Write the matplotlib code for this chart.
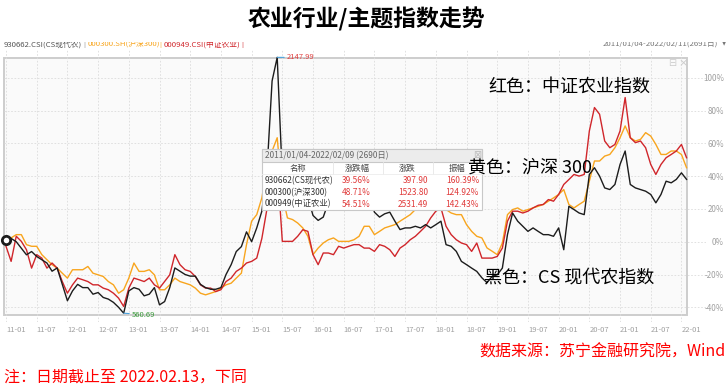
import numpy as np
import matplotlib
matplotlib.use('Agg')
import matplotlib.pyplot as plt
from matplotlib.patches import Rectangle
from matplotlib.transforms import Bbox

plt.rcParams['font.family'] = ['Noto Sans CJK SC', 'DejaVu Sans']

# ---------------- data (monthly, 2011-01 .. 2022-02, % change) ----------------
x_tick_labels = ['11-01', '11-07', '12-01', '12-07', '13-01', '13-07', '14-01', '14-07',
                 '15-01', '15-07', '16-01', '16-07', '17-01', '17-07', '18-01', '18-07',
                 '19-01', '19-07', '20-01', '20-07', '21-01', '21-07', '22-01']
y_ticks = [-40, -20, 0, 20, 40, 60, 80, 100]

cs_modern_agri = [  # 930662 CS现代农 (black)
    1, 2, 0, -4, -8, -6, -9, -11, -13, -18, -16, -26,
    -36, -30, -26, -28, -28, -32, -31, -34, -35, -37, -40, -43.6,
    -30, -28, -29, -33, -32, -28, -38.5, -36.5, -28, -16, -18, -20,
    -21, -21, -26, -28, -29, -29, -28, -20, -14, -6, -3, 6,
    0, 8.4, 18.6, 43, 98, 112.4, 40, 22, 20, 28, 30, 27,
    16, 13, 15, 24, 27, 29, 27, 25, 27, 29, 31, 28,
    18, 15, 17, 18, 12.5, 7.4, 8.4, 8.4, 9.4, 8.4, 10.4, 8.4,
    10.4, 12.5, -1.8, -2.8, -5.9, -12, -14, -16.1, -18.1, -22, -25, -21.2,
    -20.2, -16.1, 4.3, 17.5, 12.5, 9.4, 6.3, 8.4, 6.3, 4.3, 4.3, 3.3,
    8.4, -4.9, 21.6, 19.6, 17.5, 16.5, 41, 45.1, 40, 32.8, 31.8, 34.9,
    47.1, 55.3, 34.9, 32.8, 31.8, 30.8, 28.8, 23.7, 28.8, 36.9, 35.9, 38,
    42, 38]

hs300 = [  # 000300 沪深300 (orange)
    1.2, 2.3, 4.3, 4.3, -1.8, -2.8, -2.8, -7.9, -11, -14, -16.1, -19.2,
    -22.2, -17.1, -17.1, -17.1, -15.1, -19.2, -20.2, -21.2, -24.3, -26.3, -31.4, -29.3,
    -22.2, -13, -18.1, -18.1, -17.1, -20.2, -29.3, -29.3, -26.3, -22.2, -24.3, -25.3,
    -26.3, -28.3, -31.4, -32.4, -31.4, -30.4, -28.3, -26.3, -25.3, -22.2, -19.2, -1.8,
    12.5, 16.5, 26.7, 45.1, 55.3, 63.4, 28.8, 14.5, 13.5, 11.4, 8.4, 3.3,
    -7.9, -3.9, -0.8, 1.2, 2.3, 0.2, 0.2, 0.2, 1.2, 3.3, 9.4, 9.4,
    4.3, 6.3, 8.4, 9.4, 10.4, 12.5, 14.5, 16.5, 19.6, 20.6, 21.6, 24.7,
    26.7, 24.7, 19.6, 17.5, 16.5, 16.5, 10.4, 6.3, 3.3, 2.3, -3.8, -5.8,
    -7.9, -0.8, 16.5, 19.6, 20.6, 18.6, 19.6, 20.6, 21.6, 22.7, 24.7, 26.7,
    28.8, 31.8, 22.7, 20.6, 22.7, 24.7, 36.9, 49.2, 49.2, 52.2, 53.2, 57.3,
    63.4, 70.6, 63.4, 61.4, 62.4, 66.5, 64.4, 59.3, 53.2, 53.2, 55.3, 55.3,
    53.2, 45.1]

csi_agri = [  # 000949 中证农业 (red)
    -2.8, -12, 3.3, 0.2, -4.9, -16.1, -7.9, -10, -16.1, -13, -16.1, -24.3,
    -31.4, -26.3, -22.2, -23.2, -24.3, -26.3, -26.3, -28.3, -29.3, -31.4, -34.4, -39.5,
    -28.3, -22.2, -23.2, -24.3, -22.2, -26.3, -28.3, -24.3, -20.2, -7.9, -14, -17.1,
    -18.1, -21.2, -26.3, -28.3, -28.3, -30.4, -29.3, -24.3, -22.2, -18.1, -16.1, -13,
    -12, -10, 2, 20, 32.8, 47, 0.2, 0.2, 0.2, 3.3, 7.3, 6.3,
    -7.9, -14, -6.9, -6.9, -7.9, -2.8, -3.9, -2.8, -1.8, -1.8, -3.9, -3.9,
    -5.9, -1.8, -2.8, -4.9, -9, -3.9, -1.8, 1.2, 3.3, 6.3, 9.4, 14.5,
    18.6, 20.6, 9.4, 4.3, 1.2, -0.8, -1.8, -5.9, -0.8, -10, -10, -10,
    -9, -3.9, 12.5, 18.6, 18.6, 17.5, 18.6, 20.6, 22.2, 22.7, 25.7, 24.7,
    28.8, 34.9, 37.9, 41, 40, 41, 67.5, 81.8, 77.7, 61.4, 57.3, 59.3,
    67.5, 87.9, 63.4, 60.4, 61.4, 57.3, 47.1, 41, 47.1, 51.2, 53.2, 55.3,
    59.3, 51.2]

legend_names = ['930662.CSI(CS现代农)', '000300.SH(沪深300)', '000949.CSI(中证农业)']
period_label = '2011/01/04-2022/02/11(2691日)'

table_title = '2011/01/04-2022/02/09 (2690日)'
table_cols = ['名称', '涨跌幅', '涨跌', '振幅']
table_names = ['930662(CS现代农)', '000300(沪深300)', '000949(中证农业)']
table_pct = ['39.56%', '48.71%', '54.51%']
table_chg = ['397.90', '1523.80', '2531.49']
table_amp = ['160.39%', '124.92%', '142.43%']

peak_label = '2147.99'
trough_label = '560.69'

title = '农业行业/主题指数走势'
note_red = '红色：中证农业指数'
note_yellow = '黄色：沪深 300'
note_black = '黑色：CS 现代农指数'
source = '数据来源：苏宁金融研究院，Wind'
footnote = '注：日期截止至 2022.02.13，下同'

# ---------------- layout helpers ----------------
W, H = 728, 387
def fx(px):
    return px / W
def fy(py):
    return 1 - py / H

C_BLACK = '#1c1c1c'
C_ORANGE = '#f8a51e'
C_RED = '#d0262b'

fig = plt.figure(figsize=(W / 100, H / 100), dpi=100)
fig.patch.set_facecolor('white')

AX_L, AX_R, AX_T, AX_B = 4, 706, 50, 322
ax = fig.add_axes([fx(AX_L), fy(AX_B), (AX_R - AX_L) / W, (AX_B - AX_T) / H])
ax.set_facecolor('none')

n = len(cs_modern_agri)
months = np.arange(n)
px_per_month = 5.117
ax.set_xlim((AX_L - 6) / px_per_month, (AX_R - 6) / px_per_month)
px_per_pct = 1.64
zero_px = 241.7
ax.set_ylim((zero_px - AX_B) / px_per_pct, (zero_px - AX_T) / px_per_pct)

# panel background
ax_w = AX_R - AX_L
ax_h = AX_B - AX_T
panel = Rectangle(((4 - AX_L) / ax_w, (AX_B - 315) / ax_h), (687 - 4) / ax_w, (315 - 58) / ax_h,
                  transform=ax.transAxes, facecolor='#fafafa', edgecolor='#cdcdcd',
                  lw=1.4, zorder=0, clip_on=False)
ax.add_patch(panel)

for s in ax.spines.values():
    s.set_visible(False)

ax.set_xticks(np.arange(0, 6 * len(x_tick_labels), 6))
ax.set_xticklabels(x_tick_labels)
for lbl in ax.get_xticklabels():
    lbl.set_ha('left')
ax.tick_params(axis='x', length=0, pad=3, labelsize=5.5, labelcolor='#a0a0a0')

ax.yaxis.tick_right()
ax.set_yticks(y_ticks)
ax.set_yticklabels([f'{v}%' for v in y_ticks])
for lbl in ax.get_yticklabels():
    lbl.set_ha('right')
ax.tick_params(axis='y', length=0, pad=13, labelsize=5.8, labelcolor='#a0a0a0')

ax.set_axisbelow(True)
ax.grid(True, color='#dcdcdc', lw=0.6, linestyle=(0, (2, 2)))

ax.plot(months, hs300, color=C_ORANGE, lw=1.0, zorder=2)
ax.plot(months, csi_agri, color=C_RED, lw=1.0, zorder=2.1)
ax.plot(months, cs_modern_agri, color=C_BLACK, lw=1.0, zorder=2.2)
ax.plot(months[0], cs_modern_agri[0], 'o', mfc='white', mec=C_BLACK, mew=2, ms=6, zorder=3,
        clip_on=False)

pk = int(np.argmax(cs_modern_agri))
tr = int(np.argmin(cs_modern_agri))
ax.annotate(peak_label, xy=(pk, cs_modern_agri[pk]), xytext=(7, 0), textcoords='offset points',
            color='#e04040', fontsize=5.5, va='center', ha='left',
            arrowprops=dict(arrowstyle='-', color='#4aa3df', lw=0.8, shrinkA=0, shrinkB=0))
ax.annotate(trough_label, xy=(tr, cs_modern_agri[tr]), xytext=(6, -1), textcoords='offset points',
            color='#3a9a3a', fontsize=5.5, va='center', ha='left',
            arrowprops=dict(arrowstyle='-', color='#4aa3df', lw=0.8, shrinkA=0, shrinkB=0))

# top-right panel icons
fig.text(fx(672), fy(63), '⊟', fontsize=7, color='#cccccc', ha='center', va='center',
         family='DejaVu Sans')
fig.text(fx(683), fy(63), '×', fontsize=8, color='#cccccc', ha='center', va='center',
         family='DejaVu Sans')

# ---------------- header texts ----------------
fig.text(fx(366), fy(19), title, fontsize=16.5, fontweight='bold', ha='center', va='center',
         color='#000000')

clip = Bbox([[0, H - 49], [W, H - 41.5]])
leg_x = [4, 88, 164]
leg_c = ['#555555', C_ORANGE, C_RED]
for name, xx, cc in zip(legend_names, leg_x, leg_c):
    t = fig.text(fx(xx), fy(44), name, fontsize=5.6, color=cc, ha='left', va='center')
    t.set_clip_box(clip)
    t.set_clip_on(True)
for xx, cc in zip([84, 160, 242], ['#888888', C_ORANGE, C_RED]):
    t = fig.text(fx(xx), fy(44), '|', fontsize=5.6, color=cc, ha='center', va='center')
    t.set_clip_box(clip)
    t.set_clip_on(True)
t = fig.text(fx(718), fy(44), period_label, fontsize=5.6, color='#777777', ha='right', va='center')
t.set_clip_box(clip)
t.set_clip_on(True)
t = fig.text(fx(724), fy(44), '▼', fontsize=4, color='#777777', ha='center', va='center',
             family='DejaVu Sans')
t.set_clip_box(clip)
t.set_clip_on(True)

# ---------------- statistics table overlay ----------------
TL, TR, TT, TB = 262, 482, 149, 210
fig.patches.append(Rectangle((fx(TL), fy(TB)), (TR - TL) / W, (TB - TT) / H,
                             transform=fig.transFigure, facecolor='white', edgecolor='#c8c8c8',
                             lw=0.8, zorder=5))
fig.patches.append(Rectangle((fx(TL), fy(162)), (TR - TL) / W, (162 - TT) / H,
                             transform=fig.transFigure, facecolor='#ececec', edgecolor='#c8c8c8',
                             lw=0.8, zorder=5.1))
fig.text(fx(265), fy(155.5), table_title, fontsize=6, color='#666666', ha='left', va='center',
         zorder=6)
fig.text(fx(477), fy(155.5), '⊠', fontsize=7, color='#bbbbbb', ha='center', va='center',
         family='DejaVu Sans', zorder=6)
for sx in [333, 383, 433]:
    fig.lines.append(plt.Line2D([fx(sx), fx(sx)], [fy(162), fy(174)], transform=fig.transFigure,
                                color='#e6e6e6', lw=0.6, zorder=5.5))
fig.lines.append(plt.Line2D([fx(TL), fx(TR)], [fy(174), fy(174)], transform=fig.transFigure,
                            color='#ededed', lw=0.6, zorder=5.5))

col_x = [298, 357, 407, 457]
for cx, cname in zip(col_x, table_cols):
    fig.text(fx(cx), fy(168), cname, fontsize=6, color='#444444', ha='center', va='center', zorder=6)
row_y = [180.5, 192.5, 204]
for i, ry in enumerate(row_y):
    fig.text(fx(265), fy(ry), table_names[i], fontsize=6, color='#333333', ha='left', va='center',
             zorder=6)
    fig.text(fx(371), fy(ry), table_pct[i], fontsize=6, color='#e03a3a', ha='right', va='center',
             zorder=6)
    fig.text(fx(428), fy(ry), table_chg[i], fontsize=6, color='#e03a3a', ha='right', va='center',
             zorder=6)
    fig.text(fx(479), fy(ry), table_amp[i], fontsize=6, color='#e03a3a', ha='right', va='center',
             zorder=6)

# ---------------- annotations ----------------
fig.text(fx(488), fy(87), note_red, fontsize=13, color='#000000', ha='left', va='center', zorder=8)
fig.text(fx(468), fy(168), note_yellow, fontsize=13, color='#000000', ha='left', va='center',
         zorder=8)
fig.text(fx(484), fy(277), note_black, fontsize=13, color='#000000', ha='left', va='center',
         zorder=8)

# ---------------- footer ----------------
fig.text(fx(726), fy(352), source, fontsize=11.5, color='#ff0000', ha='right', va='center')
fig.text(fx(4), fy(377), footnote, fontsize=11.5, color='#ff0000', ha='left', va='center')

fig.savefig('out.png', dpi=100, facecolor='white')
